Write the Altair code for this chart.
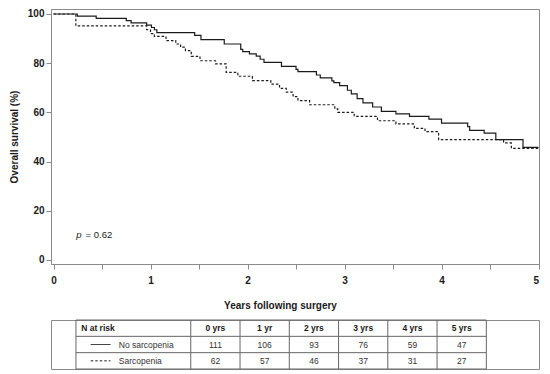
import altair as alt
import pandas as pd

# ---------------- data ----------------
no_sarc_t = [0, 0.245, 0.44, 0.75, 0.80, 0.96, 1.01, 1.04, 1.065, 1.455, 1.52, 1.76, 1.93, 1.95,
             2.02, 2.09, 2.13, 2.17, 2.35, 2.50, 2.52, 2.71, 2.75, 2.87, 2.89, 2.95, 3.03, 3.07,
             3.13, 3.19, 3.29, 3.38, 3.53, 3.67, 3.87, 4.00, 4.27, 4.29, 4.44, 4.56, 4.84, 5.0]
no_sarc_s = [100, 99.1, 98.2, 97.3, 96.4, 95.5, 94.5, 93.6, 92.4, 91.3, 89.6, 87.8, 85.6, 84.7,
             83.8, 82.9, 81.6, 80.3, 78.7, 77.5, 76.6, 75.2, 74.0, 72.8, 72.1, 70.9, 69.0, 67.5,
             65.6, 63.9, 62.2, 60.4, 59.4, 58.4, 57.3, 55.6, 54.2, 52.7, 51.6, 48.9, 45.8, 45.8]

sarc_t = [0, 0.23, 0.96, 1.00, 1.04, 1.16, 1.26, 1.31, 1.36, 1.42, 1.51, 1.67, 1.78, 1.90,
          2.05, 2.24, 2.33, 2.40, 2.47, 2.52, 2.64, 2.90, 2.93, 3.10, 3.34, 3.53, 3.72, 3.83,
          3.97, 4.64, 4.72, 5.0]
sarc_s = [100, 95.2, 93.6, 92.0, 90.9, 89.2, 87.8, 86.5, 85.1, 82.8, 81.0, 79.7, 76.3, 74.7,
          72.9, 71.5, 69.8, 68.2, 66.4, 64.8, 63.1, 61.4, 60.0, 58.4, 56.6, 55.3, 53.5, 52.2,
          48.9, 47.6, 45.4, 45.4]

groups = ["No sarcopenia", "Sarcopenia"]
risk_cols = ["0 yrs", "1 yr", "2 yrs", "3 yrs", "4 yrs", "5 yrs"]
risk_no = [111, 106, 93, 76, 59, 47]
risk_sarc = [62, 57, 46, 37, 31, 27]
x_ticks = [0, 0.5, 1, 1.5, 2, 2.5, 3, 3.5, 4, 4.5, 5]
y_ticks = [0, 10, 20, 30, 40, 50, 60, 70, 80, 90, 100]

FONT = "Liberation Sans"
GRAY = "#8a8a8a"
INK = "#1a1a1a"
DASHES = [[1, 0], [2.5, 2]]

# ---------------- KM plot ----------------
km_df = pd.DataFrame({
    "t": no_sarc_t + sarc_t,
    "s": no_sarc_s + sarc_s,
    "g": [groups[0]] * len(no_sarc_t) + [groups[1]] * len(sarc_t),
})

xscale = alt.Scale(domain=[-0.026, 5.005], nice=False, zero=False)
yscale = alt.Scale(domain=[-1.63, 102.03], nice=False, zero=False)

lines = alt.Chart(km_df).mark_line(interpolate="step-after", color=INK, strokeWidth=1.2).encode(
    x=alt.X("t:Q", scale=xscale, title="Years following surgery",
            axis=alt.Axis(values=x_ticks,
                          labelExpr="datum.value % 1 === 0 ? format(datum.value, 'd') : ''",
                          labelPadding=6, titlePadding=15, titleX=229)),
    y=alt.Y("s:Q", scale=yscale, title="Overall survival (%)",
            axis=alt.Axis(values=y_ticks,
                          labelExpr="datum.value % 20 === 0 ? format(datum.value, 'd') : ''",
                          labelPadding=2, titlePadding=8)),
    strokeDash=alt.StrokeDash("g:N", scale=alt.Scale(domain=groups, range=DASHES), legend=None),
    detail="g:N",
)

p_df = pd.DataFrame({"t": [0.235], "s": [10.0], "lab": ["p"]})
pv_df = pd.DataFrame({"t": [0.33], "s": [10.0], "lab": ["= 0.62"]})
p_txt = alt.Chart(p_df).mark_text(font=FONT, fontSize=9.5, fontStyle="italic", align="left",
                                  baseline="middle", color=INK).encode(
    x=alt.X("t:Q", scale=xscale), y=alt.Y("s:Q", scale=yscale), text="lab:N")
pv_txt = alt.Chart(pv_df).mark_text(font=FONT, fontSize=9.5, align="left",
                                    baseline="middle", color=INK).encode(
    x=alt.X("t:Q", scale=xscale), y=alt.Y("s:Q", scale=yscale), text="lab:N")

km = alt.layer(lines, p_txt, pv_txt).properties(width=488, height=255)

# ---------------- risk table ----------------
col_edges = [-2.33, 0, 1, 2, 3, 4, 5, 6]
tx = alt.Scale(domain=[-2.837, 7.069], nice=False, zero=False)
ty = alt.Scale(domain=[0, 3], nice=False, zero=False, reverse=True)

hdr_df = pd.DataFrame({"c": [i + 0.5 for i in range(6)], "r": [0.5] * 6, "lab": risk_cols})
val_df = pd.DataFrame({
    "c": [i + 0.5 for i in range(6)] * 2,
    "r": [1.5] * 6 + [2.5] * 6,
    "lab": [str(v) for v in risk_no + risk_sarc],
})
nrisk_df = pd.DataFrame({"c": [-2.225], "r": [0.5], "lab": ["N at risk"]})
grp_df = pd.DataFrame({"c": [-1.46, -1.46], "r": [1.5, 2.5], "lab": groups})
samp_df = pd.DataFrame({"c": [-2.03, -2.03], "c2": [-1.63, -1.63], "r": [1.5, 2.5], "g": groups})
hline_df = pd.DataFrame({"c": [col_edges[0]] * 4, "c2": [col_edges[-1]] * 4, "r": [0, 1, 2, 3]})
vline_df = pd.DataFrame({"c": col_edges, "r": [0] * len(col_edges), "r2": [3] * len(col_edges)})

X = lambda f: alt.X(f, scale=tx, axis=None)
Y = lambda f: alt.Y(f, scale=ty, axis=None)

hl = alt.Chart(hline_df).mark_rule(color="#666", strokeWidth=1).encode(
    x=X("c:Q"), x2="c2:Q", y=Y("r:Q"))
vl = alt.Chart(vline_df).mark_rule(color="#666", strokeWidth=1).encode(
    x=X("c:Q"), y=Y("r:Q"), y2="r2:Q")
hdr = alt.Chart(hdr_df).mark_text(font=FONT, fontSize=8.5, fontWeight="bold", color=INK,
                                  baseline="middle").encode(x=X("c:Q"), y=Y("r:Q"), text="lab:N")
nrisk = alt.Chart(nrisk_df).mark_text(font=FONT, fontSize=8.5, fontWeight="bold", color=INK,
                                      align="left", baseline="middle").encode(
    x=X("c:Q"), y=Y("r:Q"), text="lab:N")
vals = alt.Chart(val_df).mark_text(font=FONT, fontSize=8.5, color="#333",
                                   baseline="middle").encode(x=X("c:Q"), y=Y("r:Q"), text="lab:N")
grp = alt.Chart(grp_df).mark_text(font=FONT, fontSize=8.5, color="#333", align="left",
                                  baseline="middle").encode(x=X("c:Q"), y=Y("r:Q"), text="lab:N")
samp = alt.Chart(samp_df).mark_rule(color=INK, strokeWidth=1).encode(
    x=X("c:Q"), x2="c2:Q", y=Y("r:Q"),
    strokeDash=alt.StrokeDash("g:N", scale=alt.Scale(domain=groups, range=[[1, 0], [1.5, 1.5]]),
                              legend=None))

table = alt.layer(hl, vl, hdr, nrisk, vals, grp, samp).properties(width=488, height=49)

chart = alt.vconcat(km, table, spacing=8).properties(
    padding={"left": 0, "top": 0, "right": 0, "bottom": 0}
).configure(font=FONT).configure_view(stroke=GRAY, strokeWidth=1).configure_axis(
    domainColor=GRAY, tickColor=GRAY, tickSize=5, labelFont=FONT, labelFontSize=10,
    labelFontWeight="bold", labelColor=INK, titleFont=FONT, titleFontSize=10,
    titleFontWeight="bold", titleColor=INK, grid=False
).configure_concat(spacing=8)

chart.save("out.html", embed_options={"renderer": "svg", "actions": False})
